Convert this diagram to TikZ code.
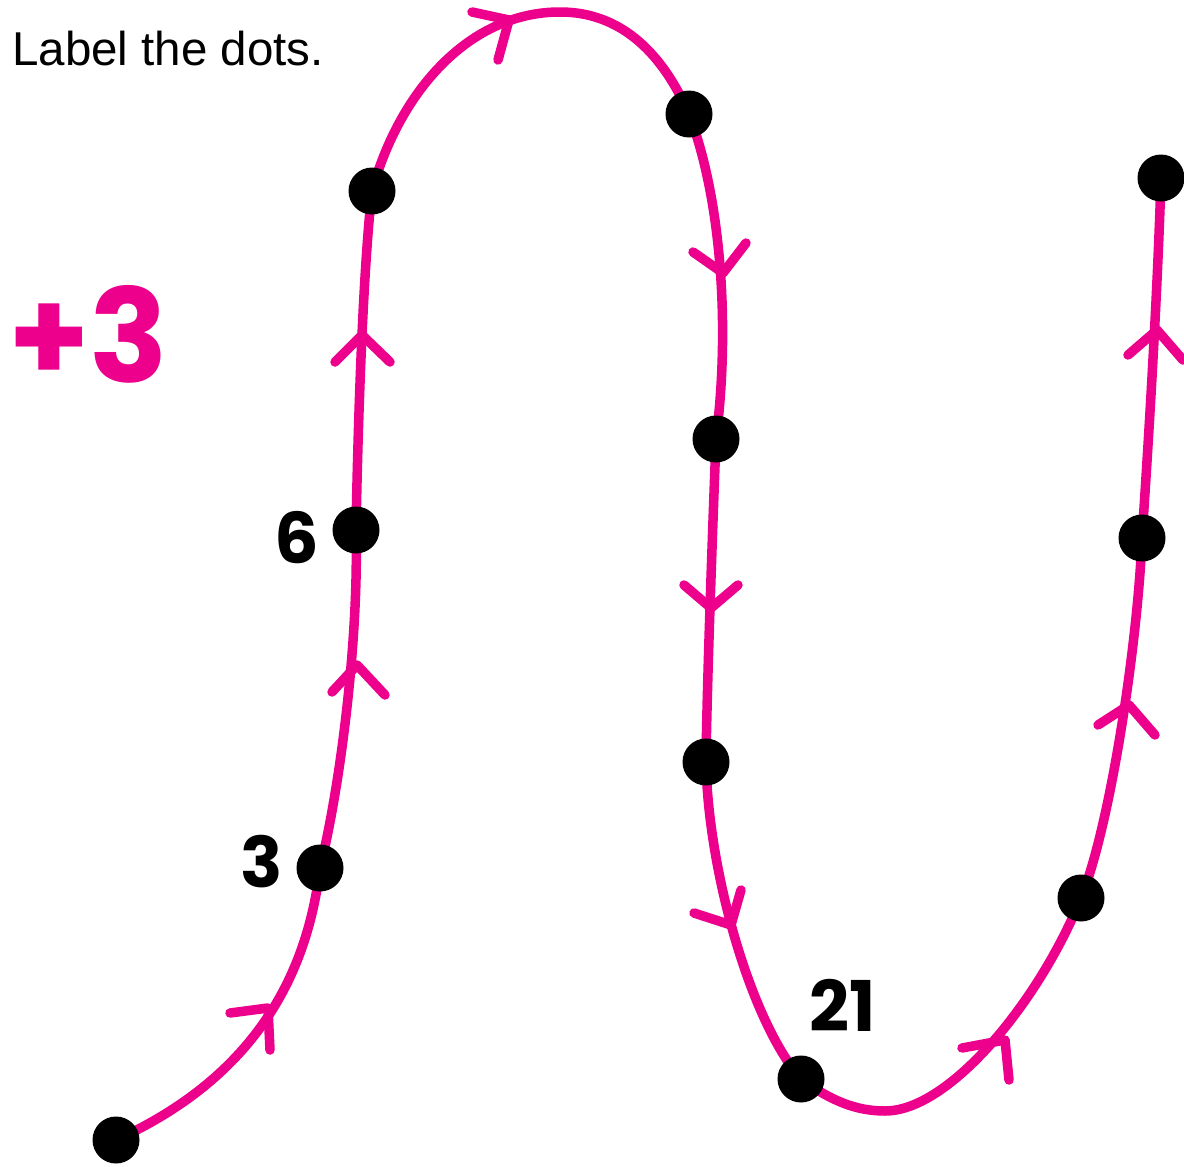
\documentclass[tikz,border=0pt]{standalone}
\usepackage{fontspec}
\setmainfont{Liberation Sans}
\newfontfamily\handfont{Poppins}
\definecolor{pinkline}{RGB}{236,0,140}
\begin{document}
\begin{tikzpicture}[x=1pt,y=-1pt,
  trail/.style={draw=pinkline,line width=9.5pt,line cap=round,line join=round},
  chev/.style={draw=pinkline,line width=9.5pt,line cap=round,line join=round},
  dot/.style={circle,fill=black,minimum size=47pt,inner sep=0pt},
  numlabel/.style={font=\handfont\bfseries\fontsize{70}{70}\selectfont,text=black,inner sep=0pt}]
\useasboundingbox (0,0) rectangle (1184,1167);
% dot positions
\coordinate (p1) at (116,1140);
\coordinate (p2) at (320,868);
\coordinate (p3) at (356,530);
\coordinate (p4) at (372,191);
\coordinate (p5) at (689,114);
\coordinate (p6) at (716,439);
\coordinate (p7) at (706,762);
\coordinate (p8) at (801,1079);
\coordinate (p9) at (1081,898);
\coordinate (p10) at (1142,538);
\coordinate (p11) at (1161,178);
\coordinate (top) at (560,12);
\coordinate (bot) at (885,1111);
% the trail
\draw[trail] (p1) .. controls (237,1085) and (305,995) .. (p2)
  .. controls (340,788) and (359,640) .. (p3)
  .. controls (358,420) and (363,270) .. (p4)
  .. controls (400,90) and (470,12) .. (top)
  .. controls (630,12) and (668,66) .. (p5)
  .. controls (722,200) and (730,330) .. (p6)
  .. controls (713,520) and (707,680) .. (p7)
  .. controls (708,870) and (750,1020) .. (p8)
  .. controls (830,1100) and (855,1111) .. (bot)
  .. controls (950,1111) and (1040,1000) .. (p9)
  .. controls (1111,824) and (1138,640) .. (p10)
  .. controls (1150,420) and (1158,280) .. (p11);
% chevron arrowheads
\coordinate (q1) at (268,1008); \coordinate (a1l) at (230,1013); \coordinate (a1r) at (270,1050);
\draw[chev] (a1l) -- (q1) -- (a1r);
\coordinate (q2) at (357,665); \coordinate (a2l) at (332,692); \coordinate (a2r) at (385,695);
\draw[chev] (a2l) -- (q2) -- (a2r);
\coordinate (q3) at (362,335); \coordinate (a3l) at (335,362); \coordinate (a3r) at (390,362);
\draw[chev] (a3l) -- (q3) -- (a3r);
\coordinate (q4) at (509,20); \coordinate (a4l) at (472,12); \coordinate (a4r) at (498,60);
\draw[chev] (a4l) -- (q4) -- (a4r);
\coordinate (q5) at (723,273); \coordinate (a5l) at (693,252); \coordinate (a5r) at (746,243);
\draw[chev] (a5l) -- (q5) -- (a5r);
\coordinate (q6) at (711,608); \coordinate (a6l) at (684,585); \coordinate (a6r) at (738,585);
\draw[chev] (a6l) -- (q6) -- (a6r);
\coordinate (q7) at (731,925); \coordinate (a7l) at (694,913); \coordinate (a7r) at (741,890);
\draw[chev] (a7l) -- (q7) -- (a7r);
\coordinate (q8) at (1005,1040); \coordinate (a8l) at (962,1048); \coordinate (a8r) at (1009,1080);
\draw[chev] (a8l) -- (q8) -- (a8r);
\coordinate (q9) at (1129,705); \coordinate (a9l) at (1098,725); \coordinate (a9r) at (1155,735);
\draw[chev] (a9l) -- (q9) -- (a9r);
\coordinate (q10) at (1157,330); \coordinate (a10l) at (1128,355); \coordinate (a10r) at (1183,360);
\draw[chev] (a10l) -- (q10) -- (a10r);
% dots
\foreach \i in {1,...,11} { \node[dot] (d\i) at (p\i) {}; }
% labels
\node[numlabel,anchor=center] (l3) at (262,862) {3};
\node[numlabel,anchor=center] (l6) at (297,538) {6};
\node[numlabel,anchor=center] (l21) at (843,1005) {21};
\node[anchor=base west,inner sep=0pt,font=\fontsize{47.5}{47.5}\selectfont] (title) at (12,65) {Label the dots.};
\node[anchor=base west,inner sep=0pt,text=pinkline,font=\handfont\bfseries\fontsize{130}{130}\selectfont] (rule) at (8,382) {+3};
\end{tikzpicture}
\end{document}
